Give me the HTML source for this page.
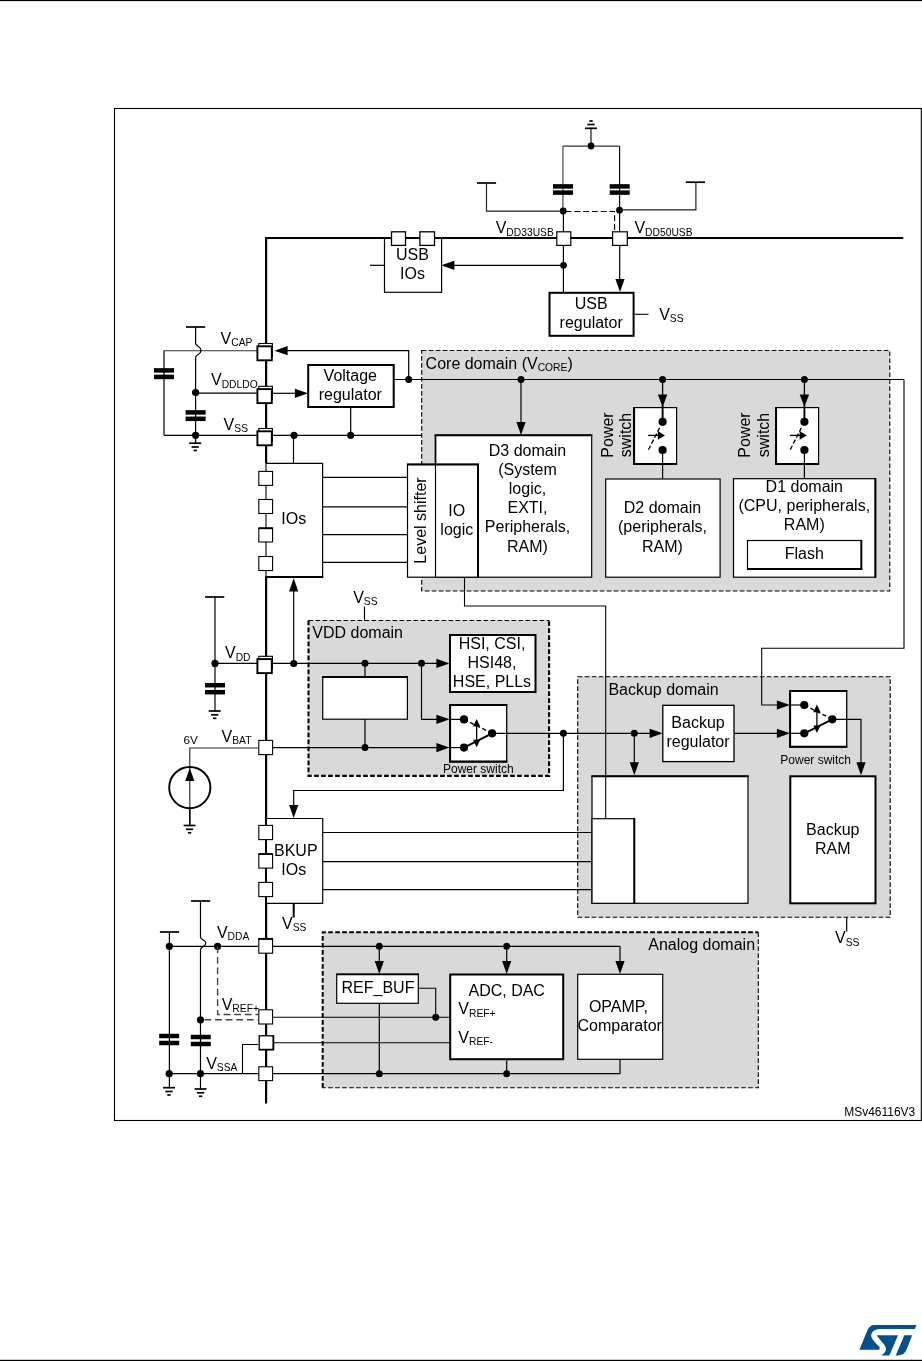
<!DOCTYPE html>
<html><head><meta charset="utf-8"><title>Power supply overview</title>
<style>
html,body{margin:0;padding:0;background:#fff;}
body{width:922px;height:1361px;overflow:hidden;}
svg{display:block;will-change:transform;}
svg text{font-family:"Liberation Sans",sans-serif;fill:#000;}
</style></head><body>
<svg width="922" height="1361" viewBox="0 0 922 1361">
<rect x="0" y="0" width="922" height="1.1" fill="#000"/>
<rect x="0" y="1359.8" width="922" height="1.2" fill="#000"/>
<rect x="114.5" y="108.5" width="806.8" height="1012" stroke="#000" stroke-width="1.1" fill="none" />
<rect x="421.7" y="350.5" width="468.1" height="240.5" stroke="#000" stroke-width="1.1" fill="#d9d9d9" stroke-dasharray="4.7 2.3"/>
<rect x="308.5" y="620.5" width="241" height="155" fill="#d9d9d9"/>
<line x1="308.5" y1="620.5" x2="549.5" y2="620.5" stroke="#000" stroke-width="1.1" stroke-dasharray="4.7 2.3"/>
<path d="M308.5,620.5 V775.9 H549.1 V620.5" stroke="#000" stroke-width="2.1" fill="none" stroke-dasharray="4.7 2.3"/>
<rect x="577.7" y="676.7" width="312.5" height="240.6" stroke="#000" stroke-width="1.1" fill="#d9d9d9" stroke-dasharray="4.7 2.3"/>
<rect x="322.7" y="932" width="435.6" height="155.7" fill="#d9d9d9"/>
<path d="M322.7,1087.7 V932.2 H758.3" stroke="#000" stroke-width="2" fill="none" stroke-dasharray="4.7 2.3"/>
<path d="M758.3,932.2 V1087.7 H322.7" stroke="#000" stroke-width="1.1" fill="none" stroke-dasharray="4.7 2.3"/>
<path d="M903.3,238 H266.1 V1103.5" stroke="#000" stroke-width="2.2" fill="none" />
<rect x="384.5" y="238" width="57.1" height="54.3" stroke="#000" stroke-width="1.2" fill="#fff" />
<line x1="384.5" y1="238" x2="441.6" y2="238" stroke="#000" stroke-width="2.2" />
<rect x="391.5" y="231.8" width="14" height="13.6" stroke="#000" stroke-width="1.3" fill="#fff" />
<rect x="419.9" y="231.8" width="14.6" height="13.6" stroke="#000" stroke-width="1.3" fill="#fff" />
<line x1="370" y1="265.3" x2="384.5" y2="265.3" stroke="#000" stroke-width="1.2" />
<line x1="453" y1="265.3" x2="563.5" y2="265.3" stroke="#000" stroke-width="1.2" />
<polygon points="441.3,265.3 454.40000000000003,260.7 454.40000000000003,269.90000000000003" fill="#000"/>
<line x1="562.9" y1="146" x2="562.9" y2="211" stroke="#444" stroke-width="1.2" />
<line x1="563.4" y1="211" x2="563.4" y2="292" stroke="#000" stroke-width="1.2" />
<line x1="619.6" y1="146" x2="619.6" y2="232" stroke="#111" stroke-width="1.2" />
<line x1="619.7" y1="245" x2="619.7" y2="280" stroke="#000" stroke-width="1.2" />
<line x1="562.9" y1="146.1" x2="619.6" y2="146.1" stroke="#333" stroke-width="1.2" />
<circle cx="591" cy="146" r="3.4" fill="#000"/>
<line x1="591" y1="146" x2="591" y2="128.5" stroke="#000" stroke-width="1.1" />
<line x1="585" y1="128.3" x2="597" y2="128.3" stroke="#000" stroke-width="1.7" />
<line x1="587.4" y1="124.50000000000001" x2="594.6" y2="124.50000000000001" stroke="#000" stroke-width="1.7" />
<line x1="589.3" y1="121.00000000000001" x2="592.7" y2="121.00000000000001" stroke="#000" stroke-width="1.7" />
<rect x="553" y="184.15" width="20" height="4.5" fill="#000"/>
<rect x="553" y="190.35" width="20" height="4.5" fill="#000"/>
<rect x="609.7" y="184.15" width="20" height="4.5" fill="#000"/>
<rect x="609.7" y="190.35" width="20" height="4.5" fill="#000"/>
<circle cx="563.2" cy="211" r="3.4" fill="#000"/>
<circle cx="619.5" cy="210.2" r="3.4" fill="#000"/>
<line x1="476.9" y1="183" x2="496.1" y2="183" stroke="#000" stroke-width="1.7" />
<path d="M486.5,183 V211.2 H563.5" stroke="#222" stroke-width="1.2" fill="none" />
<line x1="685.8" y1="182.2" x2="705.0" y2="182.2" stroke="#000" stroke-width="1.7" />
<path d="M695.9,182.2 V209.9 H620" stroke="#222" stroke-width="1.2" fill="none" />
<path d="M563.5,211.5 H614.6 V232" stroke="#000" stroke-width="1.1" fill="none" stroke-dasharray="5.9 2.9" stroke-dashoffset="-2"/>
<rect x="556.8" y="231.8" width="14" height="13.6" stroke="#000" stroke-width="1.2" fill="#fff" />
<rect x="612.6" y="231.8" width="14.7" height="13.6" stroke="#000" stroke-width="1.2" fill="#fff" />
<circle cx="563.5" cy="265.3" r="3.4" fill="#000"/>
<polygon points="620,292 615.4,278.9 624.6,278.9" fill="#000"/>
<rect x="549.5" y="292.8" width="84.1" height="43.0" stroke="#000" stroke-width="2" fill="#fff" />
<line x1="635" y1="314.3" x2="648.5" y2="314.3" stroke="#000" stroke-width="1.1" />
<line x1="164" y1="350.7" x2="257" y2="350.7" stroke="#333" stroke-width="1.1" />
<line x1="164" y1="350.7" x2="164" y2="435.3" stroke="#000" stroke-width="1.2" />
<rect x="154" y="368.15" width="20" height="4.5" fill="#000"/>
<rect x="154" y="374.65" width="20" height="4.5" fill="#000"/>
<line x1="186.0" y1="327" x2="205.2" y2="327" stroke="#000" stroke-width="1.7" />
<path d="M195.6,327 V343 C195.6,346.5 201,346 201,350.5 C201,355 195.6,354 195.6,357.5 V435.3" stroke="#000" stroke-width="1.2" fill="none" />
<circle cx="195.6" cy="392.5" r="3.6" fill="#000"/>
<line x1="195.6" y1="393.2" x2="257" y2="393.2" stroke="#000" stroke-width="1.2" />
<rect x="185.6" y="410.15" width="20" height="4.5" fill="#000"/>
<rect x="185.6" y="416.55" width="20" height="4.5" fill="#000"/>
<line x1="164" y1="435.3" x2="421.7" y2="435.3" stroke="#000" stroke-width="1.2" />
<circle cx="195.6" cy="435.3" r="3.6" fill="#000"/>
<line x1="195.6" y1="435.3" x2="195.6" y2="443" stroke="#000" stroke-width="1.2" />
<line x1="189.2" y1="443.2" x2="201.2" y2="443.2" stroke="#000" stroke-width="1.7" />
<line x1="191.6" y1="447.0" x2="198.79999999999998" y2="447.0" stroke="#000" stroke-width="1.7" />
<line x1="193.5" y1="450.5" x2="196.89999999999998" y2="450.5" stroke="#000" stroke-width="1.7" />
<rect x="258.8" y="343.5" width="13.6" height="13" stroke="#000" stroke-width="1.1" fill="#fff" />
<rect x="257.4" y="346.3" width="14.4" height="14" stroke="#000" stroke-width="1.9" fill="#fff" />
<rect x="258.8" y="386.3" width="13.6" height="13" stroke="#000" stroke-width="1.1" fill="#fff" />
<rect x="257.4" y="389.1" width="14.4" height="14" stroke="#000" stroke-width="1.9" fill="#fff" />
<rect x="258.8" y="428.5" width="13.6" height="13" stroke="#000" stroke-width="1.1" fill="#fff" />
<rect x="257.4" y="431.3" width="14.4" height="14" stroke="#000" stroke-width="1.9" fill="#fff" />
<path d="M287,350.7 H408.7 V379.5" stroke="#000" stroke-width="1.2" fill="none" />
<polygon points="274.5,350.7 287.6,346.09999999999997 287.6,355.3" fill="#000"/>
<line x1="273" y1="393.3" x2="296" y2="393.3" stroke="#000" stroke-width="1.2" />
<polygon points="308,393.3 294.9,388.7 294.9,397.90000000000003" fill="#000"/>
<rect x="308.2" y="365" width="85.5" height="42" stroke="#000" stroke-width="2" fill="#fff" />
<line x1="394" y1="379.5" x2="904" y2="379.5" stroke="#000" stroke-width="1.2" />
<circle cx="408.7" cy="379.5" r="3.5" fill="#000"/>
<line x1="350.7" y1="407" x2="350.7" y2="435.3" stroke="#000" stroke-width="1.2" />
<circle cx="294" cy="435.3" r="3.6" fill="#000"/>
<circle cx="350.7" cy="435.3" r="3.6" fill="#000"/>
<line x1="293.5" y1="435.3" x2="293.5" y2="463.5" stroke="#000" stroke-width="1.2" />
<rect x="264.5" y="463.3" width="58.1" height="113.8" fill="#fff"/>
<path d="M266,463.3 H322.6 V577" stroke="#000" stroke-width="1.2" fill="none" />
<line x1="266" y1="463.3" x2="266" y2="577" stroke="#000" stroke-width="1.1" />
<line x1="265.2" y1="577" x2="323.2" y2="577" stroke="#000" stroke-width="2.2" />
<rect x="258.8" y="471.4" width="13.8" height="14" stroke="#000" stroke-width="1.1" fill="#fff" />
<rect x="258.8" y="499.5" width="13.8" height="14" stroke="#000" stroke-width="1.1" fill="#fff" />
<rect x="258.8" y="528" width="13.8" height="14" stroke="#000" stroke-width="1.1" fill="#fff" />
<rect x="258.8" y="556.5" width="13.8" height="14" stroke="#000" stroke-width="1.1" fill="#fff" />
<line x1="258.8" y1="528.3" x2="272.6" y2="528.3" stroke="#000" stroke-width="1.8" />
<line x1="322.6" y1="477.4" x2="407.5" y2="477.4" stroke="#000" stroke-width="1.1" />
<line x1="322.6" y1="506.9" x2="407.5" y2="506.9" stroke="#000" stroke-width="1.1" />
<line x1="322.6" y1="534.6" x2="407.5" y2="534.6" stroke="#000" stroke-width="1.1" />
<line x1="322.6" y1="562.4" x2="407.5" y2="562.4" stroke="#000" stroke-width="1.1" />
<line x1="293.7" y1="590" x2="293.7" y2="663.5" stroke="#000" stroke-width="1.2" />
<polygon points="293.7,578.3 289.09999999999997,591.4 298.3,591.4" fill="#000"/>
<rect x="435.5" y="435.3" width="156.2" height="141.9" stroke="#000" stroke-width="1.2" fill="#fff" />
<line x1="434.6" y1="435.2" x2="592.3" y2="435.2" stroke="#000" stroke-width="2" />
<line x1="435.5" y1="435" x2="435.5" y2="577" stroke="#000" stroke-width="1.6" />
<rect x="407.5" y="464.3" width="70.5" height="112.9" stroke="#000" stroke-width="1.2" fill="#fff" />
<line x1="406.9" y1="464.5" x2="479" y2="464.5" stroke="#000" stroke-width="2" />
<line x1="478" y1="464" x2="478" y2="577.5" stroke="#000" stroke-width="2" />
<line x1="435.5" y1="464" x2="435.5" y2="577" stroke="#000" stroke-width="1.2" />
<line x1="521" y1="379.5" x2="521" y2="423" stroke="#000" stroke-width="1.2" />
<circle cx="521" cy="379.5" r="3.5" fill="#000"/>
<polygon points="521,435 516.4,421.9 525.6,421.9" fill="#000"/>
<path d="M464.5,577.5 V606 H605.7 V776" stroke="#000" stroke-width="1.1" fill="none" />
<rect x="605.7" y="479" width="114.4" height="98.2" stroke="#000" stroke-width="1.2" fill="#fff" />
<rect x="733.5" y="478.7" width="141.8" height="98.5" stroke="#000" stroke-width="1.2" fill="#fff" />
<line x1="875.4" y1="478.2" x2="875.4" y2="577.8" stroke="#000" stroke-width="2" />
<rect x="747.5" y="540.5" width="113.8" height="28.5" stroke="#000" stroke-width="1.2" fill="#fff" />
<line x1="747" y1="569" x2="862.2" y2="569" stroke="#000" stroke-width="2" />
<line x1="861.4" y1="540" x2="861.4" y2="569.8" stroke="#000" stroke-width="1.8" />
<circle cx="662.6" cy="379.5" r="3.5" fill="#000"/>
<line x1="662.6" y1="379.5" x2="662.6" y2="395" stroke="#000" stroke-width="1.3" />
<rect x="633.8000000000001" y="407.6" width="42.8" height="56.4" stroke="#000" stroke-width="1.2" fill="#fff" />
<line x1="634.1" y1="407.1" x2="634.1" y2="465" stroke="#000" stroke-width="2" />
<line x1="633.2" y1="464" x2="677.1" y2="464" stroke="#000" stroke-width="2" />
<polygon points="662.6,407 657.9,394.4 667.3000000000001,394.4" fill="#000"/>
<line x1="662.6" y1="405" x2="662.6" y2="422" stroke="#000" stroke-width="1.9" />
<circle cx="662.6" cy="421.8" r="4.1" fill="#000"/>
<circle cx="662.6" cy="450" r="4.1" fill="#000"/>
<line x1="662.6" y1="450" x2="662.6" y2="478.5" stroke="#000" stroke-width="1.2" />
<line x1="648.4" y1="449.8" x2="659.6" y2="427.8" stroke="#000" stroke-width="1.3" stroke-dasharray="4.6 2.2"/>
<line x1="648.1" y1="435.4" x2="658.6" y2="435.4" stroke="#000" stroke-width="1.3" />
<polygon points="665.0,435.4 657.8,431.09999999999997 657.8,439.7" fill="#000"/>
<circle cx="804.4" cy="379.5" r="3.5" fill="#000"/>
<line x1="804.4" y1="379.5" x2="804.4" y2="395" stroke="#000" stroke-width="1.3" />
<rect x="775.8000000000001" y="407.6" width="42.8" height="56.4" stroke="#000" stroke-width="1.2" fill="#fff" />
<line x1="776.1" y1="407.1" x2="776.1" y2="465" stroke="#000" stroke-width="2" />
<line x1="775.2" y1="464" x2="819.1" y2="464" stroke="#000" stroke-width="2" />
<polygon points="804.4,407 799.6999999999999,394.4 809.1,394.4" fill="#000"/>
<line x1="804.4" y1="405" x2="804.4" y2="422" stroke="#000" stroke-width="1.9" />
<circle cx="804.4" cy="421.8" r="4.1" fill="#000"/>
<circle cx="804.4" cy="450" r="4.1" fill="#000"/>
<line x1="804.4" y1="450" x2="804.4" y2="478.5" stroke="#000" stroke-width="1.2" />
<line x1="790.1999999999999" y1="449.8" x2="801.4" y2="427.8" stroke="#000" stroke-width="1.3" stroke-dasharray="4.6 2.2"/>
<line x1="789.9" y1="435.4" x2="800.4" y2="435.4" stroke="#000" stroke-width="1.3" />
<polygon points="806.8,435.4 799.5999999999999,431.09999999999997 799.5999999999999,439.7" fill="#000"/>
<path d="M904,379.5 V648.3 H761.7 V705 H778" stroke="#000" stroke-width="1.1" fill="none" />
<line x1="273" y1="663.4" x2="437" y2="663.4" stroke="#000" stroke-width="1.2" />
<circle cx="293.7" cy="663.5" r="3.6" fill="#000"/>
<rect x="258.8" y="656.3" width="13.6" height="13" stroke="#000" stroke-width="1.1" fill="#fff" />
<rect x="257.4" y="659.0999999999999" width="14.4" height="14" stroke="#000" stroke-width="1.9" fill="#fff" />
<line x1="215" y1="663.4" x2="257" y2="663.4" stroke="#000" stroke-width="1.2" />
<circle cx="215" cy="663.4" r="3.6" fill="#000"/>
<line x1="205.1" y1="597" x2="224.29999999999998" y2="597" stroke="#000" stroke-width="1.7" />
<line x1="215" y1="597" x2="215" y2="711" stroke="#000" stroke-width="1.2" />
<rect x="205" y="682.95" width="20" height="4.5" fill="#000"/>
<rect x="205" y="689.95" width="20" height="4.5" fill="#000"/>
<line x1="208.7" y1="711" x2="220.7" y2="711" stroke="#000" stroke-width="1.7" />
<line x1="211.1" y1="714.8" x2="218.29999999999998" y2="714.8" stroke="#000" stroke-width="1.7" />
<line x1="213.0" y1="718.3" x2="216.39999999999998" y2="718.3" stroke="#000" stroke-width="1.7" />
<circle cx="365" cy="663.3" r="3.5" fill="#000"/>
<circle cx="421.5" cy="663.3" r="3.5" fill="#000"/>
<line x1="365" y1="663.3" x2="365" y2="747.5" stroke="#000" stroke-width="1.2" />
<rect x="322.7" y="677" width="84.7" height="42.2" stroke="#000" stroke-width="1.2" fill="#fff" />
<line x1="322.1" y1="676.9" x2="408" y2="676.9" stroke="#000" stroke-width="2" />
<circle cx="365" cy="747.5" r="3.5" fill="#000"/>
<polygon points="449.5,663.4 436.4,658.8 436.4,668.0" fill="#000"/>
<rect x="450" y="635" width="85.5" height="57" stroke="#000" stroke-width="2" fill="#fff" />
<path d="M421.5,663.3 V719.3 H437" stroke="#000" stroke-width="1.2" fill="none" />
<polygon points="449.5,719.3 436.4,714.6999999999999 436.4,723.9" fill="#000"/>
<line x1="273" y1="747.6" x2="437" y2="747.6" stroke="#000" stroke-width="1.2" />
<polygon points="449.5,747.6 436.4,743.0 436.4,752.2" fill="#000"/>
<line x1="364.5" y1="606.5" x2="364.5" y2="620.5" stroke="#000" stroke-width="1.2" />
<rect x="450" y="705" width="56.7" height="56.6" stroke="#000" stroke-width="1.3" fill="#fff" />
<line x1="450.1" y1="704.4" x2="450.1" y2="762.5" stroke="#000" stroke-width="2" />
<line x1="449.2" y1="761.6" x2="507.3" y2="761.6" stroke="#000" stroke-width="2.1" />
<line x1="449.2" y1="705" x2="507.3" y2="705" stroke="#000" stroke-width="1.8" />
<line x1="450" y1="719.4" x2="464" y2="719.4" stroke="#000" stroke-width="1.2" />
<line x1="450" y1="747.6" x2="464" y2="747.6" stroke="#000" stroke-width="1.2" />
<line x1="464" y1="719.4" x2="492.1" y2="733.3" stroke="#000" stroke-width="1.4" stroke-dasharray="4.2 2.6"/>
<line x1="464" y1="747.6" x2="492.1" y2="733.3" stroke="#000" stroke-width="1.9" />
<line x1="476.65000000000003" y1="724.4" x2="476.65000000000003" y2="742.6" stroke="#000" stroke-width="1.3" />
<polygon points="476.65000000000003,719.0 473.05,726.6 480.25000000000006,726.6" fill="#000"/>
<polygon points="476.65000000000003,747.2 473.05,739.8000000000001 480.25000000000006,739.8000000000001" fill="#000"/>
<circle cx="464" cy="719.4" r="4.1" fill="#000"/>
<circle cx="464" cy="747.6" r="4.1" fill="#000"/>
<circle cx="492.1" cy="733.3" r="4.1" fill="#000"/>
<line x1="492" y1="733.3" x2="650" y2="733.3" stroke="#000" stroke-width="1.2" />
<circle cx="563.4" cy="733.3" r="3.5" fill="#000"/>
<circle cx="634.3" cy="733.3" r="3.5" fill="#000"/>
<polygon points="662.7,733.3 649.6,728.6999999999999 649.6,737.9" fill="#000"/>
<path d="M563.4,733.3 V790.5 H293.7 V806" stroke="#000" stroke-width="1.2" fill="none" />
<polygon points="293.7,818 289.09999999999997,804.9 298.3,804.9" fill="#000"/>
<line x1="189.8" y1="748" x2="258" y2="748" stroke="#222" stroke-width="1.1" />
<line x1="189.8" y1="748" x2="189.8" y2="825" stroke="#222" stroke-width="1.1" />
<line x1="189.8" y1="808" x2="189.8" y2="825" stroke="#000" stroke-width="1.4" />
<circle cx="189.8" cy="787.6" r="20.6" fill="none" stroke="#000" stroke-width="1.9"/>
<polygon points="189.8,768.2 185.20000000000002,781.0 194.4,781.0" fill="#000"/>
<line x1="183.6" y1="825.5" x2="195.6" y2="825.5" stroke="#000" stroke-width="1.7" />
<line x1="186.0" y1="829.3" x2="193.2" y2="829.3" stroke="#000" stroke-width="1.7" />
<line x1="187.9" y1="832.8" x2="191.29999999999998" y2="832.8" stroke="#000" stroke-width="1.7" />
<rect x="258.8" y="740.4" width="13.8" height="14.2" stroke="#000" stroke-width="1.1" fill="#fff" />
<rect x="267" y="818.5" width="55.6" height="84.8" fill="#fff"/>
<path d="M266,818.5 H322.7 V903.3 H266" stroke="#000" stroke-width="1.2" fill="none" />
<rect x="258.8" y="825.4" width="13.8" height="14.2" stroke="#000" stroke-width="1.1" fill="#fff" />
<rect x="258.8" y="853.9" width="13.8" height="14.2" stroke="#000" stroke-width="1.1" fill="#fff" />
<rect x="258.8" y="882.4" width="13.8" height="14.2" stroke="#000" stroke-width="1.1" fill="#fff" />
<line x1="258.8" y1="854" x2="272.6" y2="854" stroke="#000" stroke-width="1.8" />
<line x1="322.7" y1="832.5" x2="591.7" y2="832.5" stroke="#000" stroke-width="1.1" />
<line x1="322.7" y1="861.6" x2="591.7" y2="861.6" stroke="#000" stroke-width="1.1" />
<line x1="322.7" y1="889.6" x2="591.7" y2="889.6" stroke="#000" stroke-width="1.1" />
<line x1="293.7" y1="903.3" x2="293.7" y2="917.5" stroke="#000" stroke-width="2" />
<line x1="634.3" y1="733.3" x2="634.3" y2="763" stroke="#000" stroke-width="1.2" />
<polygon points="634.3,775.3 629.6999999999999,762.1999999999999 638.9,762.1999999999999" fill="#000"/>
<rect x="592" y="776.3" width="156" height="127.0" stroke="#000" stroke-width="1.2" fill="#fff" />
<line x1="591.3" y1="776.2" x2="748.7" y2="776.2" stroke="#000" stroke-width="2" />
<line x1="605.7" y1="776" x2="605.7" y2="818.7" stroke="#000" stroke-width="1.1" />
<rect x="592" y="818.7" width="42.3" height="84.6" stroke="#000" stroke-width="1.2" fill="#fff" />
<line x1="634.3" y1="818.2" x2="634.3" y2="903.8" stroke="#000" stroke-width="2" />
<rect x="662.8" y="705.3" width="71.2" height="56.3" stroke="#000" stroke-width="1.3" fill="#fff" />
<line x1="734" y1="733.3" x2="778" y2="733.3" stroke="#000" stroke-width="1.2" />
<polygon points="790,733.3 776.9,728.6999999999999 776.9,737.9" fill="#000"/>
<polygon points="790,705 776.9,700.4 776.9,709.6" fill="#000"/>
<rect x="790" y="691" width="56.7" height="55.8" stroke="#000" stroke-width="1.3" fill="#fff" />
<line x1="790.1" y1="690.4" x2="790.1" y2="747.6999999999999" stroke="#000" stroke-width="2" />
<line x1="789.2" y1="746.8" x2="847.3000000000001" y2="746.8" stroke="#000" stroke-width="2.1" />
<line x1="789.2" y1="691" x2="847.3000000000001" y2="691" stroke="#000" stroke-width="1.8" />
<line x1="790" y1="705" x2="804.3" y2="705" stroke="#000" stroke-width="1.2" />
<line x1="790" y1="733.3" x2="804.3" y2="733.3" stroke="#000" stroke-width="1.2" />
<line x1="804.3" y1="705" x2="832.3" y2="719.3" stroke="#000" stroke-width="1.4" stroke-dasharray="4.2 2.6"/>
<line x1="804.3" y1="733.3" x2="832.3" y2="719.3" stroke="#000" stroke-width="1.9" />
<line x1="816.9" y1="710" x2="816.9" y2="728.3" stroke="#000" stroke-width="1.3" />
<polygon points="816.9,704.6 813.3,712.2 820.5,712.2" fill="#000"/>
<polygon points="816.9,732.9 813.3,725.5 820.5,725.5" fill="#000"/>
<circle cx="804.3" cy="705" r="4.1" fill="#000"/>
<circle cx="804.3" cy="733.3" r="4.1" fill="#000"/>
<circle cx="832.3" cy="719.3" r="4.1" fill="#000"/>
<path d="M832.3,719.3 H861 V763" stroke="#000" stroke-width="1.2" fill="none" />
<polygon points="861,775.3 856.4,762.1999999999999 865.6,762.1999999999999" fill="#000"/>
<rect x="790.3" y="776.3" width="85.2" height="127.0" stroke="#000" stroke-width="2" fill="#fff" />
<line x1="846.7" y1="917.3" x2="846.7" y2="931.5" stroke="#000" stroke-width="1.2" />
<line x1="159.9" y1="932" x2="179.1" y2="932" stroke="#000" stroke-width="1.7" />
<line x1="169.4" y1="932" x2="169.4" y2="1088" stroke="#000" stroke-width="1.2" />
<rect x="159.2" y="1033.75" width="20" height="4.5" fill="#000"/>
<rect x="159.2" y="1040.75" width="20" height="4.5" fill="#000"/>
<line x1="191.0" y1="901" x2="210.2" y2="901" stroke="#000" stroke-width="1.7" />
<path d="M200.5,901 V937 C200.5,940.5 205.8,939.5 205.8,942.9 C205.8,947 200.5,946.5 200.5,949.6 V1089" stroke="#000" stroke-width="1.2" fill="none" />
<rect x="190.8" y="1034.75" width="20" height="4.5" fill="#000"/>
<rect x="190.8" y="1041.75" width="20" height="4.5" fill="#000"/>
<line x1="169.4" y1="946.3" x2="258" y2="946.3" stroke="#000" stroke-width="1.2" />
<circle cx="169.4" cy="946.3" r="3.6" fill="#000"/>
<circle cx="217.6" cy="946.3" r="3.6" fill="#000"/>
<path d="M217.6,946.3 V1014.5 H258" stroke="#444" stroke-width="1.4" fill="none" stroke-dasharray="6.8 3.8"/>
<line x1="200.5" y1="1019.8" x2="258" y2="1019.8" stroke="#444" stroke-width="1.4" stroke-dasharray="6.8 3.8" stroke-dashoffset="-4"/>
<circle cx="200.5" cy="1019.8" r="3.6" fill="#000"/>
<line x1="169.4" y1="1073.7" x2="620" y2="1073.7" stroke="#000" stroke-width="1.2" />
<circle cx="169.2" cy="1073.7" r="3.6" fill="#000"/>
<circle cx="200.5" cy="1073.7" r="3.6" fill="#000"/>
<line x1="163" y1="1087.7" x2="175" y2="1087.7" stroke="#000" stroke-width="1.7" />
<line x1="165.4" y1="1091.5" x2="172.6" y2="1091.5" stroke="#000" stroke-width="1.7" />
<line x1="167.3" y1="1095.0" x2="170.7" y2="1095.0" stroke="#000" stroke-width="1.7" />
<line x1="194.6" y1="1089" x2="206.6" y2="1089" stroke="#000" stroke-width="1.7" />
<line x1="197.0" y1="1092.8" x2="204.2" y2="1092.8" stroke="#000" stroke-width="1.7" />
<line x1="198.9" y1="1096.3" x2="202.29999999999998" y2="1096.3" stroke="#000" stroke-width="1.7" />
<path d="M258,1044.5 H242.5 V1073.7" stroke="#000" stroke-width="1.1" fill="none" />
<rect x="258.8" y="938.8" width="13.8" height="14.4" stroke="#000" stroke-width="1.1" fill="#fff" />
<line x1="258.3" y1="938.9" x2="273" y2="938.9" stroke="#000" stroke-width="2" />
<rect x="258.8" y="1009.8" width="13.8" height="14.2" stroke="#000" stroke-width="1.1" fill="#fff" />
<rect x="259.2" y="1035.8" width="14.2" height="13.8" stroke="#000" stroke-width="1.3" fill="#fff" />
<line x1="273.4" y1="1035.5" x2="273.4" y2="1050" stroke="#000" stroke-width="1.7" />
<line x1="258.8" y1="1049.6" x2="274" y2="1049.6" stroke="#000" stroke-width="1.6" />
<rect x="258.8" y="1066.8" width="13.8" height="13.8" stroke="#000" stroke-width="1.1" fill="#fff" />
<line x1="273" y1="946.3" x2="620" y2="946.3" stroke="#000" stroke-width="1.2" />
<line x1="620" y1="946.3" x2="620" y2="962" stroke="#000" stroke-width="1.2" />
<circle cx="379.3" cy="946.3" r="3.5" fill="#000"/>
<circle cx="506.7" cy="946.3" r="3.5" fill="#000"/>
<line x1="379.3" y1="946.3" x2="379.3" y2="962" stroke="#000" stroke-width="1.2" />
<polygon points="379.3,974 374.7,960.9 383.90000000000003,960.9" fill="#000"/>
<line x1="506.7" y1="946.3" x2="506.7" y2="962" stroke="#000" stroke-width="1.2" />
<polygon points="506.7,974 502.09999999999997,960.9 511.3,960.9" fill="#000"/>
<polygon points="620,974 615.4,960.9 624.6,960.9" fill="#000"/>
<rect x="336.7" y="974.3" width="81.6" height="29.0" stroke="#000" stroke-width="1.2" fill="#fff" />
<line x1="336.1" y1="974.3" x2="419" y2="974.3" stroke="#000" stroke-width="1.8" />
<line x1="379.3" y1="1003.3" x2="379.3" y2="1073.7" stroke="#000" stroke-width="1.2" />
<circle cx="379.3" cy="1073.7" r="3.5" fill="#000"/>
<path d="M418.3,988.3 H435.7 V1017.3" stroke="#000" stroke-width="1.1" fill="none" />
<circle cx="435.7" cy="1017.3" r="3.5" fill="#000"/>
<line x1="273" y1="1017.3" x2="450" y2="1017.3" stroke="#000" stroke-width="1.1" />
<line x1="273.5" y1="1042.8" x2="450" y2="1042.8" stroke="#000" stroke-width="1.1" />
<rect x="450.2" y="974.5" width="113.0" height="84.7" stroke="#000" stroke-width="2" fill="#fff" />
<rect x="577.7" y="974.3" width="85.0" height="85.0" stroke="#000" stroke-width="1.2" fill="#fff" />
<line x1="506.7" y1="1059.3" x2="506.7" y2="1073.7" stroke="#000" stroke-width="1.2" />
<circle cx="506.7" cy="1073.7" r="3.5" fill="#000"/>
<line x1="620" y1="1059.3" x2="620" y2="1073.7" stroke="#000" stroke-width="1.2" />
<text x="495.7" y="233.3" font-size="16" text-anchor="start">V<tspan font-size="10.3" dy="2.2">DD33USB</tspan></text>
<text x="634.4" y="233.3" font-size="16" text-anchor="start">V<tspan font-size="10.3" dy="2.2">DD50USB</tspan></text>
<text x="412.5" y="259.5" font-size="16" text-anchor="middle" >USB</text>
<text x="412.5" y="278.8" font-size="16" text-anchor="middle" >IOs</text>
<text x="591.2" y="309.4" font-size="16" text-anchor="middle" >USB</text>
<text x="591.2" y="328.4" font-size="16" text-anchor="middle" >regulator</text>
<text x="659.2" y="320" font-size="16" text-anchor="start">V<tspan font-size="10.3" dy="2.2">SS</tspan></text>
<text x="220.6" y="343.8" font-size="16" text-anchor="start">V<tspan font-size="10.3" dy="2.2">CAP</tspan></text>
<text x="211" y="385.3" font-size="16" text-anchor="start">V<tspan font-size="10.3" dy="2.2">DDLDO</tspan></text>
<text x="223.6" y="430" font-size="16" text-anchor="start">V<tspan font-size="10.3" dy="2.2">SS</tspan></text>
<text x="350.3" y="381.3" font-size="16" text-anchor="middle" >Voltage</text>
<text x="350.3" y="400" font-size="16" text-anchor="middle" >regulator</text>
<text x="425.6" y="368.5" font-size="16">Core domain (V<tspan font-size="10.3" dy="2.2">CORE</tspan><tspan dy="-2.2">)</tspan></text>
<text x="293.8" y="523.8" font-size="16" text-anchor="middle" >IOs</text>
<text x="527.5" y="456.0" font-size="16" text-anchor="middle" >D3 domain</text>
<text x="527.5" y="475.1" font-size="16" text-anchor="middle" >(System</text>
<text x="527.5" y="494.2" font-size="16" text-anchor="middle" >logic,</text>
<text x="527.5" y="513.3" font-size="16" text-anchor="middle" >EXTI,</text>
<text x="527.5" y="532.4" font-size="16" text-anchor="middle" >Peripherals,</text>
<text x="527.5" y="551.5" font-size="16" text-anchor="middle" >RAM)</text>
<text x="456.8" y="516.1" font-size="16" text-anchor="middle" >IO</text>
<text x="456.8" y="535.1" font-size="16" text-anchor="middle" >logic</text>
<text transform="translate(426,520.5) rotate(-90)" font-size="16" text-anchor="middle">Level shifter</text>
<text transform="translate(612.6,435) rotate(-90)" font-size="16" text-anchor="middle">Power</text>
<text transform="translate(631.4,435) rotate(-90)" font-size="16" text-anchor="middle">switch</text>
<text transform="translate(749.9,435) rotate(-90)" font-size="16" text-anchor="middle">Power</text>
<text transform="translate(768.8,435) rotate(-90)" font-size="16" text-anchor="middle">switch</text>
<text x="662.5" y="513.3" font-size="16" text-anchor="middle" >D2 domain</text>
<text x="662.5" y="532.4" font-size="16" text-anchor="middle" >(peripherals,</text>
<text x="662.5" y="551.5" font-size="16" text-anchor="middle" >RAM)</text>
<text x="804.3" y="491.5" font-size="16" text-anchor="middle" >D1 domain</text>
<text x="804.3" y="510.7" font-size="16" text-anchor="middle" >(CPU, peripherals,</text>
<text x="804.3" y="530.1" font-size="16" text-anchor="middle" >RAM)</text>
<text x="804.3" y="558.5" font-size="16" text-anchor="middle" >Flash</text>
<text x="353.2" y="602.8" font-size="16" text-anchor="start">V<tspan font-size="10.3" dy="2.2">SS</tspan></text>
<text x="312.3" y="638" font-size="16" text-anchor="start" >VDD domain</text>
<text x="225" y="658.3" font-size="16" text-anchor="start">V<tspan font-size="10.3" dy="2.2">DD</tspan></text>
<text x="492" y="648.9" font-size="16" text-anchor="middle" >HSI, CSI,</text>
<text x="492" y="667.7" font-size="16" text-anchor="middle" >HSI48,</text>
<text x="492" y="686.6" font-size="16" text-anchor="middle" >HSE, PLLs</text>
<text x="478.3" y="772.6" font-size="12" text-anchor="middle" >Power switch</text>
<text x="815.7" y="764" font-size="12" text-anchor="middle" >Power switch</text>
<text x="221.5" y="741.8" font-size="16" text-anchor="start">V<tspan font-size="10.3" dy="2.2">BAT</tspan></text>
<text x="183.5" y="744.4" font-size="11.8" text-anchor="start" >6V</text>
<text x="608.4" y="695" font-size="16" text-anchor="start" >Backup domain</text>
<text x="698" y="728.3" font-size="16" text-anchor="middle" >Backup</text>
<text x="698" y="747.4" font-size="16" text-anchor="middle" >regulator</text>
<text x="832.8" y="835" font-size="16" text-anchor="middle" >Backup</text>
<text x="832.8" y="854.1" font-size="16" text-anchor="middle" >RAM</text>
<text x="295.8" y="855.7" font-size="16" text-anchor="middle" >BKUP</text>
<text x="293.8" y="874.7" font-size="16" text-anchor="middle" >IOs</text>
<text x="282" y="928.8" font-size="16" text-anchor="start">V<tspan font-size="10.3" dy="2.2">SS</tspan></text>
<text x="835" y="943.3" font-size="16" text-anchor="start">V<tspan font-size="10.3" dy="2.2">SS</tspan></text>
<text x="216.9" y="937.8" font-size="16" text-anchor="start">V<tspan font-size="10.3" dy="2.2">DDA</tspan></text>
<text x="221.7" y="1010" font-size="16" text-anchor="start">V<tspan font-size="10.3" dy="2.2">REF+</tspan></text>
<text x="206.2" y="1069.2" font-size="16" text-anchor="start">V<tspan font-size="10.3" dy="2.2">SSA</tspan></text>
<text x="648.3" y="950" font-size="16" text-anchor="start" >Analog domain</text>
<text x="341.5" y="992.7" font-size="16" text-anchor="start" >REF_BUF</text>
<text x="506.7" y="996" font-size="16" text-anchor="middle" >ADC, DAC</text>
<text x="458.3" y="1014.3" font-size="16" text-anchor="start">V<tspan font-size="10.3" dy="2.2">REF+</tspan></text>
<text x="458.3" y="1042.7" font-size="16" text-anchor="start">V<tspan font-size="10.3" dy="2.2">REF-</tspan></text>
<text x="618.4" y="1011.7" font-size="16" text-anchor="middle" >OPAMP,</text>
<text x="619.7" y="1031" font-size="16" text-anchor="middle" >Comparator</text>
<text x="915.3" y="1116" font-size="12" text-anchor="end" >MSv46116V3</text>
<path fill="#03508c" d="M874.2,1325 H916.4 L914.8,1329 H880.5 C874.5,1329 871.2,1332.3 871.2,1335.6 C871.2,1339 875,1342 879.8,1347.6 L879.3,1349.7 H859.4 L867.3,1330.5 C868.8,1327 871,1325 874.2,1325 Z"/>
<path fill="#03508c" d="M876.6,1335.3 H898 L889.4,1355.5 H881.5 C884.3,1353.3 887,1350.5 885.6,1347 C884.2,1343.8 880,1340.3 876.6,1335.3 Z"/>
<path fill="#03508c" d="M904.4,1335.3 H912.2 L906.6,1349.6 C905,1353.6 902,1355.5 897.8,1355.5 H895.7 Z"/>
</svg>
</body></html>
